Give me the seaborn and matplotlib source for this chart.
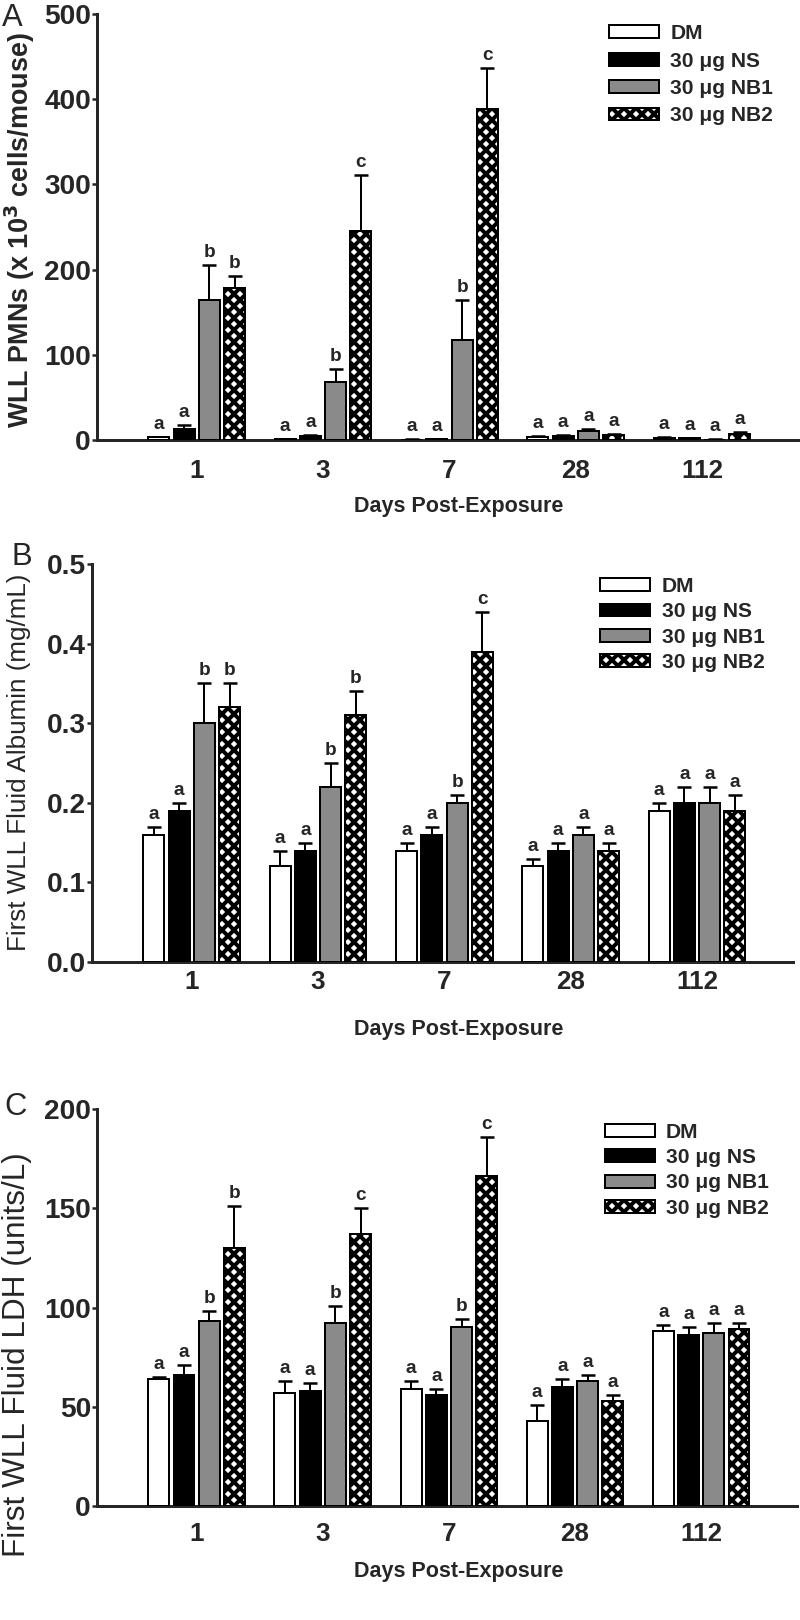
import numpy as np
import pandas as pd
import matplotlib
matplotlib.use('Agg')
import matplotlib.pyplot as plt
import seaborn as sns

days = ['1', '3', '7', '28', '112']
groups = ['DM', '30 μg NS', '30 μg NB1', '30 μg NB2']

# panel A - WLL PMNs (x 10^3 cells/mouse)
pmn_dm = [3, 1, 0.5, 4, 2.5]
pmn_ns = [13, 5, 1, 5, 2]
pmn_nb1 = [164, 68, 117, 10, 0.5]
pmn_nb2 = [178, 245, 388, 6, 7]
pmn_dm_err = [1, 0.5, 0.3, 1, 0.5]
pmn_ns_err = [5, 1, 0.5, 1, 0.5]
pmn_nb1_err = [41, 15, 47, 3, 0.3]
pmn_nb2_err = [14, 66, 49, 1.5, 2]
pmn_letters = [['a', 'a', 'a', 'a', 'a'], ['a', 'a', 'a', 'a', 'a'],
               ['b', 'b', 'b', 'a', 'a'], ['b', 'c', 'c', 'a', 'a']]

# panel B - albumin (mg/mL)
alb_dm = [0.16, 0.12, 0.14, 0.12, 0.19]
alb_ns = [0.19, 0.14, 0.16, 0.14, 0.20]
alb_nb1 = [0.30, 0.22, 0.20, 0.16, 0.20]
alb_nb2 = [0.32, 0.31, 0.39, 0.14, 0.19]
alb_dm_err = [0.01, 0.02, 0.01, 0.01, 0.01]
alb_ns_err = [0.01, 0.01, 0.01, 0.01, 0.02]
alb_nb1_err = [0.05, 0.03, 0.01, 0.01, 0.02]
alb_nb2_err = [0.03, 0.03, 0.05, 0.01, 0.02]
alb_letters = [['a', 'a', 'a', 'a', 'a'], ['a', 'a', 'a', 'a', 'a'],
               ['b', 'b', 'b', 'a', 'a'], ['b', 'b', 'c', 'a', 'a']]

# panel C - LDH (units/L)
ldh_dm = [64, 57, 59, 43, 88]
ldh_ns = [66, 58, 56, 60, 86]
ldh_nb1 = [93, 92, 90, 63, 87]
ldh_nb2 = [130, 137, 166, 53, 89]
ldh_dm_err = [1, 6, 4, 8, 3]
ldh_ns_err = [5, 4, 3, 4, 4]
ldh_nb1_err = [5, 9, 4, 3, 5]
ldh_nb2_err = [21, 13, 20, 3, 3]
ldh_letters = [['a', 'a', 'a', 'a', 'a'], ['a', 'a', 'a', 'a', 'a'],
               ['b', 'b', 'b', 'a', 'a'], ['b', 'c', 'c', 'a', 'a']]

sns.set_style('ticks')
plt.rcParams['font.family'] = ['Liberation Sans', 'DejaVu Sans']
plt.rcParams['font.weight'] = 'bold'
plt.rcParams['hatch.linewidth'] = 4
plt.rcParams['hatch.color'] = 'black'

palette = {'DM': 'white', '30 μg NS': 'black', '30 μg NB1': '#8a8a8a', '30 μg NB2': 'white'}

# dpi 72 so that sizes in points equal pixels
fig = plt.figure(figsize=(800 / 72, 1620 / 72), dpi=72)


def panel(rect, vals, errs, letters, yticks, ylim, fmt, xpad, leg_anchor, leg_space):
    ax = fig.add_axes(rect)
    df = pd.DataFrame({'day': np.tile(days, 4),
                       'group': np.repeat(groups, 5),
                       'value': np.concatenate(vals)})
    sns.barplot(data=df, x='day', y='value', hue='group', order=days, hue_order=groups,
                palette=palette, edgecolor='black', linewidth=2, gap=0.17,
                errorbar=None, ax=ax, zorder=3)
    bars = list(ax.containers)
    for i, cont in enumerate(bars):
        xs = [p.get_x() + p.get_width() / 2 for p in cont]
        ax.errorbar(xs, vals[i], yerr=[np.zeros(5), errs[i]], fmt='none', ecolor='black',
                    elinewidth=2, capsize=7, capthick=2.5, zorder=2)
        for x, v, e, t in zip(xs, vals[i], errs[i], letters[i]):
            ax.annotate(t, (x, v + e), xytext=(0, 4), textcoords='offset points',
                        ha='center', va='bottom', fontsize=19, fontweight='bold')
        if i == 3:
            for p in cont:
                p.set_hatch('xx')
                p.set_facecolor('white')
                if hasattr(p, 'set_hatch_linewidth'):
                    p.set_hatch_linewidth(4)
    ax.legend(bars, groups, loc='upper left', bbox_to_anchor=leg_anchor,
              frameon=False, fontsize=21, handlelength=50 / 21, handleheight=12 / 21,
              handletextpad=0.55, labelspacing=leg_space, borderpad=0, borderaxespad=0)
    ax.set_xlim(-0.79, 4.76)
    ax.set_ylim(*ylim)
    ax.set_yticks(yticks)
    ax.set_yticklabels([fmt.format(t) for t in yticks])
    ax.set_xlabel('')
    ax.set_ylabel('')
    ax.tick_params(axis='y', length=5, width=2.5, pad=1, labelsize=28)
    ax.tick_params(axis='x', length=0, pad=xpad, labelsize=26)
    for s in ['bottom', 'left']:
        ax.spines[s].set_linewidth(3)
    sns.despine(ax=ax)
    return ax


W, H = 800, 1620


def rect(l, r, t, b):
    return [l / W, 1 - b / H, (r - l) / W, (b - t) / H]


axA = panel(rect(97, 798, 14, 440),
            [pmn_dm, pmn_ns, pmn_nb1, pmn_nb2],
            [pmn_dm_err, pmn_ns_err, pmn_nb1_err, pmn_nb2_err],
            pmn_letters, [0, 100, 200, 300, 400, 500], (0, 500), '{:.0f}', 19,
            (0.73, 0.976), 0.40)
axB = panel(rect(92, 793, 564, 962),
            [alb_dm, alb_ns, alb_nb1, alb_nb2],
            [alb_dm_err, alb_ns_err, alb_nb1_err, alb_nb2_err],
            alb_letters, [0.0, 0.1, 0.2, 0.3, 0.4, 0.5], (0, 0.5), '{:.1f}', 8,
            (0.725, 0.967), 0.30)
axC = panel(rect(97, 797, 1109, 1506),
            [ldh_dm, ldh_ns, ldh_nb1, ldh_nb2],
            [ldh_dm_err, ldh_ns_err, ldh_nb1_err, ldh_nb2_err],
            ldh_letters, [0, 50, 100, 150, 200], (0, 200), '{:.0f}', 16,
            (0.725, 0.965), 0.30)

# axis titles
for yc in [507, 1030, 1572]:
    fig.text(459 / W, 1 - yc / H, 'Days Post-Exposure', ha='center', va='center',
             fontsize=21.5, fontweight='bold')
fig.text(20 / W, 1 - 230 / H, 'WLL PMNs (x 10$^\\mathbf{3}$ cells/mouse)', rotation=90,
         ha='center', va='center', fontsize=27, fontweight='bold')
fig.text(19 / W, 1 - 762 / H, 'First WLL Fluid Albumin (mg/mL)', rotation=90,
         ha='center', va='center', fontsize=26, fontweight='normal')
fig.text(17 / W, 1 - 1355 / H, 'First WLL Fluid LDH (units/L)', rotation=90,
         ha='center', va='center', fontsize=31.5, fontweight='normal')

# panel letters
fig.text(2 / W, 1 - 3 / H, 'A', ha='left', va='top', fontsize=31, fontweight='normal')
fig.text(12 / W, 1 - 542 / H, 'B', ha='left', va='top', fontsize=31, fontweight='normal')
fig.text(4 / W, 1 - 1092 / H, 'C', ha='left', va='top', fontsize=31, fontweight='normal')

fig.savefig('out.png', dpi=72)
